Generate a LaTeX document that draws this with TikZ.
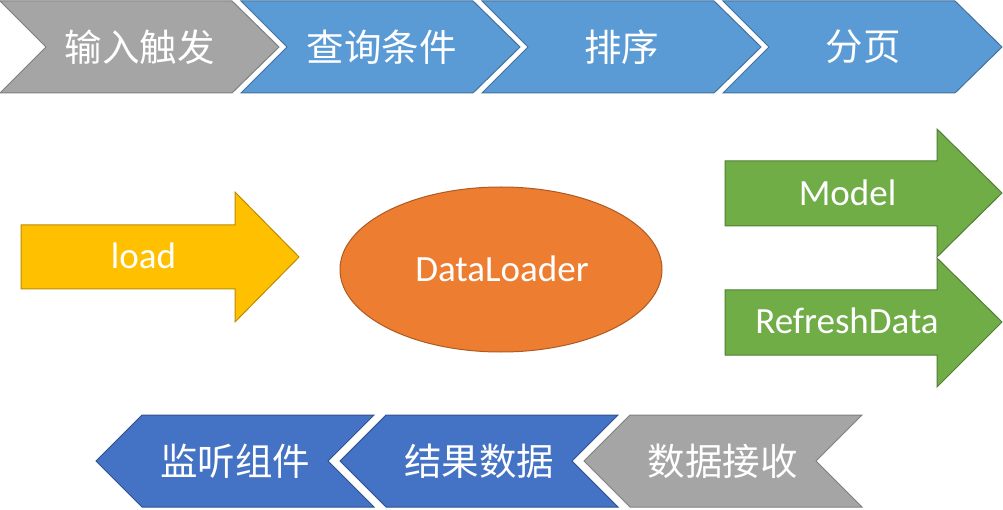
\documentclass[tikz,border=0pt]{standalone}
\usepackage{fontspec}
\setmainfont{Carlito}
\newfontfamily\cjk{Noto Sans CJK SC}
\definecolor{grayfill}{HTML}{A5A5A5}
\definecolor{grayline}{HTML}{7F7F7F}
\definecolor{bluefill}{HTML}{5B9BD5}
\definecolor{blueline}{HTML}{41719C}
\definecolor{darkfill}{HTML}{4472C4}
\definecolor{darkline}{HTML}{2F528F}
\definecolor{orangefill}{HTML}{ED7D31}
\definecolor{orangeline}{HTML}{AE5A21}
\definecolor{goldfill}{HTML}{FFC000}
\definecolor{goldline}{HTML}{BC8C00}
\definecolor{greenfill}{HTML}{70AD47}
\definecolor{greenline}{HTML}{507E32}
\tikzset{
  graybox/.style={fill=grayfill,draw=grayline,line width=1pt},
  bluebox/.style={fill=bluefill,draw=blueline,line width=1pt},
  darkbox/.style={fill=darkfill,draw=darkline,line width=1pt},
  zh/.style={text=white,inner sep=0pt,font=\cjk\fontsize{37.5}{40}\selectfont},
  en/.style={text=white,inner sep=0pt,anchor=base,font=\fontsize{37}{40}\selectfont}
}
\begin{document}
\begin{tikzpicture}[x=1pt,y=-1pt,line join=miter]
  \useasboundingbox (0,0) rectangle (1003,510);
  % top row
  \draw[graybox] (0,1) -- (232,1) -- (279,47) -- (232,93) -- (0,93) -- (46,47) -- cycle;
  \draw[bluebox] (241,1) -- (473,1) -- (520,47) -- (473,93) -- (241,93) -- (287,47) -- cycle;
  \draw[bluebox] (482,1) -- (714,1) -- (761,47) -- (714,93) -- (482,93) -- (528,47) -- cycle;
  \draw[bluebox] (723,1) -- (955,1) -- (1002,47) -- (955,93) -- (723,93) -- (769,47) -- cycle;
  \node[zh] (t1) at (139.5,47) {输入触发};
  \node[zh] (t2) at (381.5,47) {查询条件};
  \node[zh] (t3) at (621.5,47) {排序};
  \node[zh] (t4) at (863,47) {分页};
  % middle
  \draw[fill=goldfill,draw=goldline,line width=1pt]
    (21,225) -- (235,225) -- (235,192) -- (299,257) -- (235,322) -- (235,289) -- (21,289) -- cycle;
  \node[en] (load) at (143.5,269) {load};
  \draw[fill=orangefill,draw=orangeline,line width=1pt]
    (501,269.5) ellipse [x radius=161,y radius=82.5];
  \node[en] (dl) at (502,282) {DataLoader};
  \draw[fill=greenfill,draw=greenline,line width=1pt]
    (725,161) -- (937,161) -- (937,129) -- (1002,193) -- (937,257) -- (937,226) -- (725,226) -- cycle;
  \draw[fill=greenfill,draw=greenline,line width=1pt]
    (725,290) -- (937,290) -- (937,258) -- (1002,322) -- (937,387) -- (937,355) -- (725,355) -- cycle;
  \node[en] (model) at (847.5,206) {Model};
  \node[en] (refresh) at (847,333) {RefreshData};
  % bottom row
  \draw[darkbox] (96,461) -- (142,415) -- (374,415) -- (328,461) -- (374,507) -- (142,507) -- cycle;
  \draw[darkbox] (340,461) -- (386,415) -- (618,415) -- (572,461) -- (618,507) -- (386,507) -- cycle;
  \draw[graybox] (584,461) -- (630,415) -- (862,415) -- (816,461) -- (862,507) -- (630,507) -- cycle;
  \node[zh] (b1) at (235,461) {监听组件};
  \node[zh] (b2) at (479,461) {结果数据};
  \node[zh] (b3) at (722.5,461) {数据接收};
\end{tikzpicture}
\end{document}
